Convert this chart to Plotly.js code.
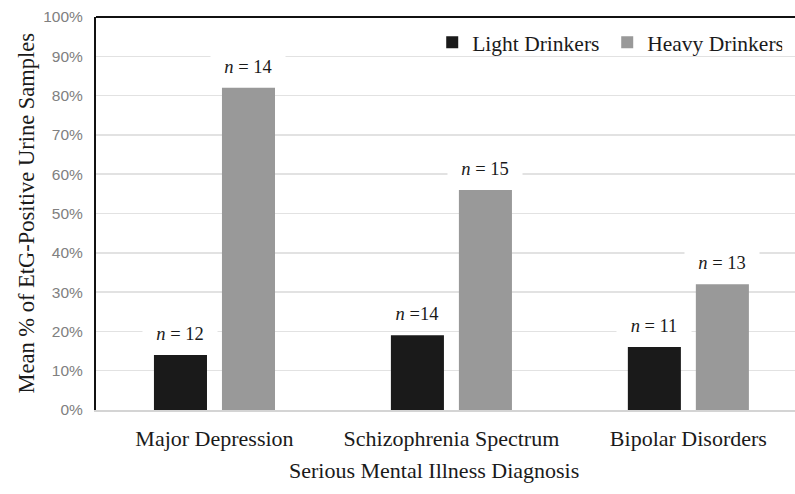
<!DOCTYPE html>
<html>
<head>
<meta charset="utf-8">
<script src="https://cdn.plot.ly/plotly-3.0.1.min.js"></script>
<style>html,body{margin:0;padding:0;background:#fff;}#chart{width:795px;height:494px;}</style>
</head>
<body>
<div id="chart"></div>
<script>
const categories = ['Major Depression', 'Schizophrenia Spectrum', 'Bipolar Disorders'];
const lightValues = [14, 19, 16];
const heavyValues = [82, 56, 32];
const lightLabels = ['<i>n</i> = 12', '<i>n</i> =14', '<i>n</i> = 11'];
const heavyLabels = ['<i>n</i> = 14', '<i>n</i> = 15', '<i>n</i> = 13'];
const seriesNames = ['Light Drinkers', 'Heavy Drinkers'];
const yTickVals = [0, 10, 20, 30, 40, 50, 60, 70, 80, 90, 100];
const yTickText = ['0%', '10%', '20%', '30%', '40%', '50%', '60%', '70%', '80%', '90%', '100%'];
const xTitle = 'Serious Mental Illness Diagnosis';
const yTitle = 'Mean % of EtG-Positive Urine Samples';

const serif = 'Liberation Serif, Times New Roman, serif';
const sans = 'Liberation Sans, Arial, sans-serif';
const bargap = 0.426;
const half = (1 - bargap) / 4;

const annotations = [];
categories.forEach((c, i) => {
  [[lightValues, lightLabels, -half], [heavyValues, heavyLabels, half]].forEach(([vals, labs, off]) => {
    annotations.push({
      x: i + off, y: vals[i], xref: 'x', yref: 'y',
      text: labs[i], showarrow: false, yanchor: 'middle', yshift: 21,
      font: {family: serif, size: 18.5, color: '#1a1a1a'},
      bgcolor: '#ffffff', width: 66, height: 20, borderpad: 4
    });
  });
});
annotations.push({
  text: yTitle, xref: 'paper', yref: 'paper', x: -0.1001, y: 0.5,
  xanchor: 'center', yanchor: 'middle', textangle: -90, showarrow: false,
  font: {family: serif, size: 22.5, color: '#1a1a1a'}
});
annotations.push({
  text: xTitle, xref: 'paper', yref: 'paper', x: 0.4835, y: -0.1527,
  xanchor: 'center', yanchor: 'middle', showarrow: false,
  font: {family: serif, size: 22, color: '#1a1a1a'}
});

const data = [
  {type: 'bar', name: seriesNames[0], x: categories, y: lightValues, marker: {color: '#1a1a1a'}},
  {type: 'bar', name: seriesNames[1], x: categories, y: heavyValues, marker: {color: '#999999'}}
];

const layout = {
  width: 795, height: 494,
  margin: {l: 96, r: 0, t: 17, b: 84},
  paper_bgcolor: '#ffffff', plot_bgcolor: '#ffffff',
  barmode: 'group', bargap: bargap, bargroupgap: 0.22,
  showlegend: true,
  legend: {orientation: 'h', x: 0.481, y: 0.936, xanchor: 'left', yanchor: 'middle',
           entrywidth: 130, entrywidthmode: 'pixels',
           font: {family: serif, size: 21.5, color: '#1a1a1a'}, bgcolor: 'rgba(255,255,255,0)'},
  xaxis: {
    type: 'category', range: [-0.5, 2.45], showgrid: false,
    showline: true, linecolor: '#d4d4d4', linewidth: 2,
    ticks: '', ticklabelstandoff: 8, tickangle: 0, automargin: false,
    tickfont: {family: serif, size: 22, color: '#1a1a1a'},
    zeroline: false
  },
  yaxis: {
    range: [0, 100], tickvals: yTickVals, ticktext: yTickText,
    showgrid: true, gridcolor: '#e2e2e2', gridwidth: 1.5,
    showline: true, linecolor: '#111111', linewidth: 2,
    ticks: '', ticklabelstandoff: 8, automargin: false,
    tickfont: {family: sans, size: 15.5, color: '#808080'},
    zeroline: false
  },
  shapes: [
    {type: 'line', xref: 'paper', yref: 'paper', x0: 0, x1: 1, y0: 1, y1: 1, line: {color: '#111111', width: 2}}
  ],
  annotations: annotations
};

Plotly.newPlot('chart', data, layout, {displayModeBar: false, staticPlot: true});
</script>
</body>
</html>
